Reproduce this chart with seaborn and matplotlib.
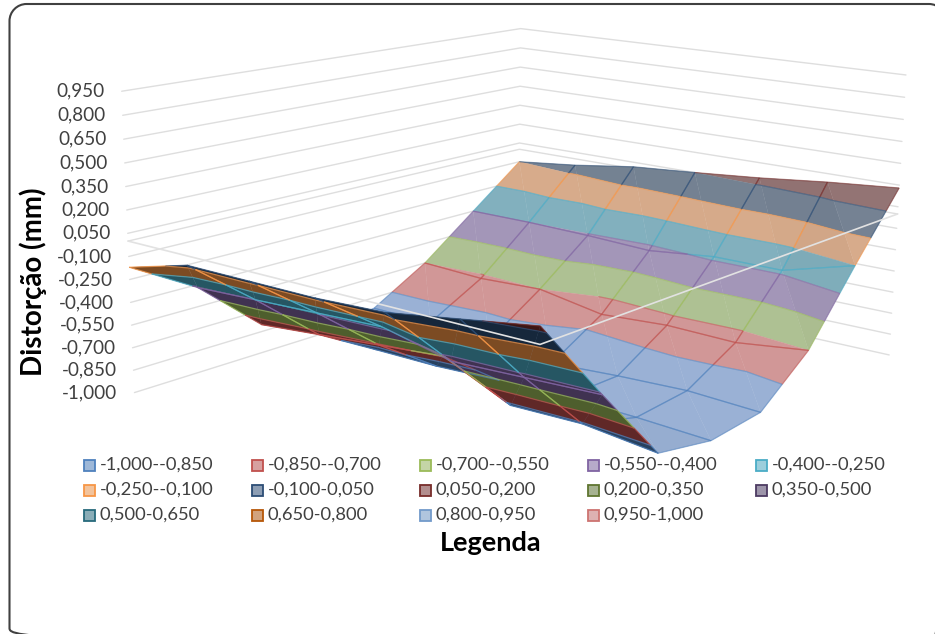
import numpy as np
import matplotlib
matplotlib.use("Agg")
import matplotlib.pyplot as plt
from matplotlib.colors import to_rgb
from matplotlib.path import Path
import seaborn as sns
from matplotlib.patches import PathPatch, Rectangle
from mpl_toolkits.mplot3d import proj3d
from mpl_toolkits.mplot3d.art3d import Poly3DCollection, Line3DCollection

W_PX, H_PX = 935, 634

z_levels = [0.95, 0.80, 0.65, 0.50, 0.35, 0.20, 0.05, -0.10, -0.25, -0.40, -0.55, -0.70, -0.85, -1.00]
z_tick_labels = ["0,950", "0,800", "0,650", "0,500", "0,350", "0,200", "0,050", "-0,100", "-0,250",
                 "-0,400", "-0,550", "-0,700", "-0,850", "-1,000"]
band_edges = [-1.0, -0.85, -0.7, -0.55, -0.4, -0.25, -0.1, 0.05, 0.2, 0.35, 0.5, 0.65, 0.8, 0.95, 1.0]
band_labels = ["-1,000--0,850", "-0,850--0,700", "-0,700--0,550", "-0,550--0,400", "-0,400--0,250",
               "-0,250--0,100", "-0,100-0,050", "0,050-0,200", "0,200-0,350", "0,350-0,500",
               "0,500-0,650", "0,650-0,800", "0,800-0,950", "0,950-1,000"]
band_colors = ["#4F81BD", "#C0504D", "#9BBB59", "#8064A2", "#4BACC6", "#F79646", "#2C4D75",
               "#772C2A", "#5F7530", "#4D3B62", "#276A7C", "#B65708", "#729ACA", "#CD7371"]
# Muted fills of the bands on the slope facing the viewer
slope_colors = ["#93A9CB", "#C79090", "#A6B88C", "#9B8FAF", "#7CA8B5", "#CDA384", "#6F7C8C",
                "#8C6E6E", "#8A9A70", "#7D7090", "#5E8C98", "#B08A60", "#9DB5D5", "#D0A0A0"]

# Distortion on the measurement grid, back edge first, front edge last
distortion = np.array([
    [-0.10, -0.05, 0.015, 0.05, 0.09, 0.14, 0.18],
    [-0.40, -0.40, -0.41, -0.43, -0.38, -0.38, -0.25],
    [-0.70, -0.72, -0.70, -0.78, -0.75, -0.76, -0.70],
    [-0.93, -0.93, -0.95, -1.00, -0.97, -0.95, -0.97],
    [-0.97, -1.00, -1.00, -0.98, -0.97, -0.98, -1.00],
    [-0.80, -0.76, -0.72, -0.68, -0.88, -0.87, -0.92],
    [-0.42, -0.40, -0.38, -0.36, -0.46, -0.44, -0.42],
    [-0.17, -0.06, -0.06, -0.06, -0.04, 0.03, 0.10],
])

sns.set_theme(style="white")
plt.rcParams["font.family"] = ["Lato", "DejaVu Sans"]
TEXT_GREY = "#404040"
GRID_GREY = "#DEDEDE"

fig = plt.figure(figsize=(W_PX / 100, H_PX / 100), dpi=100, facecolor="white")

# Pixel-addressed backdrop for the frame, legend and titles
bg = fig.add_axes([0, 0, 1, 1], zorder=0)
bg.set_xlim(0, W_PX); bg.set_ylim(H_PX, 0); bg.axis("off")

nrow, ncol = distortion.shape
xmax, ymax = ncol - 1, nrow - 1
side = 812.61
ax = fig.add_axes([110.33 / W_PX, -14.0 / H_PX, side / W_PX, side / H_PX], projection="3d", zorder=1)
ax.patch.set_alpha(0)
ax.set_axis_off()
ax.set_xlim(0, xmax); ax.set_ylim(0, ymax); ax.set_zlim(-1.0, 0.95)
ax.computed_zorder = False
ax.view_init(13.9393, -51.2536, -0.6212)
ax.set_proj_type("persp", focal_length=0.4245)
aspect = (1.6929, 1.9933, 1.0)
ax.set_box_aspect(aspect)
ax.M = ax.get_proj()
ax.apply_aspect()

x_grid = np.arange(ncol, dtype=float)
y_grid = ymax - np.arange(nrow, dtype=float)


def screen_xy(x, y, z):
    u, v, _ = proj3d.proj_transform(np.atleast_1d(x), np.atleast_1d(y), np.atleast_1d(z), ax.M)
    return u, v


def signed_area(tri):
    u, v = screen_xy(tri[:, 0], tri[:, 1], tri[:, 2])
    return 0.5 * np.sum(u * np.roll(v, -1) - np.roll(u, -1) * v)


def clip_band(poly, lo, hi):
    """Cut a polygon down to the part lying between two z levels."""
    def half(points, level, keep_above):
        out = []
        n = len(points)
        for i in range(n):
            a, b = points[i], points[(i + 1) % n]
            ina = a[2] >= level if keep_above else a[2] <= level
            inb = b[2] >= level if keep_above else b[2] <= level
            if ina:
                out.append(a)
            if ina != inb:
                t = (level - a[2]) / (b[2] - a[2])
                out.append(a + t * (b - a))
        return out
    pts = half(list(poly), lo, True)
    if len(pts) >= 3:
        pts = half(pts, hi, False)
    return np.array(pts) if len(pts) >= 3 else None


def band_of(z):
    return int(np.clip(np.searchsorted(band_edges, z) - 1, 0, len(band_colors) - 1))


def split_segment(p, q):
    """Yield (band, segment) pieces of a mesh edge, one per colour band."""
    cuts = [0.0, 1.0]
    for e in band_edges:
        if (p[2] - e) * (q[2] - e) < 0:
            cuts.append((e - p[2]) / (q[2] - p[2]))
    cuts.sort()
    for t0, t1 in zip(cuts[:-1], cuts[1:]):
        a, b = p + t0 * (q - p), p + t1 * (q - p)
        yield band_of(0.5 * (a[2] + b[2])), (a, b)


def level_crossings(tri):
    """Contour segments where the band limits cross a triangle."""
    out = []
    for k, e in enumerate(band_edges[1:-1]):
        pts = []
        for i in range(3):
            a, b = tri[i], tri[(i + 1) % 3]
            if (a[2] - e) * (b[2] - e) < 0:
                pts.append(a + (e - a[2]) / (b[2] - a[2]) * (b - a))
        if len(pts) == 2:
            out.append((k, pts))
    return out


light_dir = np.array([0.25, -0.35, 0.90])
light_dir /= np.linalg.norm(light_dir)
scale_xyz = np.array(aspect) / np.array([xmax, ymax, 1.95])


def facing(tri):
    n = np.cross((tri[1] - tri[0]) * scale_xyz, (tri[2] - tri[0]) * scale_xyz)
    n = n / np.linalg.norm(n)
    if n[2] < 0:
        n = -n
    return float(n @ light_dir)


layers = {False: dict(f=[], fc=[], s=[], sc=[]), True: dict(f=[], fc=[], s=[], sc=[])}
for r in range(nrow - 1):
    for c in range(ncol - 1):
        v = lambda i, j: np.array([x_grid[j], y_grid[i], distortion[i, j]])
        p00, p01, p11, p10 = v(r, c), v(r, c + 1), v(r + 1, c + 1), v(r + 1, c)
        for tri, mesh_edges in (((p00, p01, p11), ((p00, p01), (p01, p11))),
                                ((p00, p11, p10), ((p11, p10), (p10, p00)))):
            tri = np.array(tri)
            flat = tri.copy(); flat[:, 2] = 0
            under = signed_area(tri) * signed_area(flat) < 0
            bucket = layers[under]
            lit = float(np.clip(1.0 + 0.45 * (facing(tri) - 0.80), 0.9, 1.05))
            for k, (lo, hi, col, pale) in enumerate(zip(band_edges[:-1], band_edges[1:], band_colors, slope_colors)):
                piece = clip_band(tri, lo, hi)
                if piece is None:
                    continue
                face = np.array(to_rgb(col)) * 0.5 if under else np.clip(np.array(to_rgb(pale)) * lit, 0, 1)
                bucket["f"].append(piece); bucket["fc"].append(face)
            for a, b in mesh_edges:
                for k, seg in split_segment(a, b):
                    bucket["s"].append(seg); bucket["sc"].append(to_rgb(band_colors[k]))
            for k, seg in level_crossings(tri):
                bucket["s"].append(seg); bucket["sc"].append(to_rgb(band_colors[k]))

# Back walls: one gridline per tick level
for z in z_levels + [0.0]:
    ax.plot([0, 0, xmax], [0, ymax, ymax], [z, z, z], color=GRID_GREY, lw=1.0, zorder=1)

# Far slope first, then the near slope seen from below
zo = 2
for under in (False, True):
    bucket = layers[under]
    faces = Poly3DCollection(bucket["f"], facecolors=bucket["fc"], edgecolors=bucket["fc"], linewidths=0.25, zorder=zo)
    ax.add_collection3d(faces)
    alpha = 0.5 if not under else 0.7
    lines = Line3DCollection(bucket["s"], colors=[c + (alpha,) for c in bucket["sc"]], linewidths=0.9, zorder=zo + 1)
    ax.add_collection3d(lines)
    zo += 2

# Category axes cross at zero in front of the surface
ax.plot([0, xmax, xmax], [0, 0, ymax], [0, 0, 0], color="#E2E2E2", lw=1.2, zorder=10)

ax.set_xlim(0, xmax); ax.set_ylim(0, ymax); ax.set_zlim(-1.0, 0.95)

# Value labels sit just left of the wall lines
for z, lab in zip(z_levels, z_tick_labels):
    u, v = screen_xy(0.0, 0.0, z)
    px, py = ax.transData.transform((u[0], v[0]))
    bg.text(px - 17, H_PX - py, lab, ha="right", va="center", fontsize=13.6, color=TEXT_GREY)

bg.text(33, 282, "Distorção (mm)", rotation=90, ha="center", va="center", fontsize=20, fontweight="bold", color="black")
bg.text(491, 543, "Legenda", ha="center", va="center", fontsize=19.5, fontweight="bold", color="black")

# Legend grid: five columns, filled row by row
legend_x = [89, 257, 425, 593, 761]
legend_y = [465, 490, 515]
for i, (lab, col) in enumerate(zip(band_labels, band_colors)):
    cx, cy = legend_x[i % 5], legend_y[i // 5]
    base = np.array(to_rgb(col))
    bg.add_patch(Rectangle((cx - 5.5, cy - 5.5), 11, 11, facecolor=0.5 * base + 0.5 * np.array([0.93, 0.94, 0.95]),
                           edgecolor=col, lw=1.3))
    bg.text(cx + 11, cy, lab, ha="left", va="center", fontsize=13.2, color=TEXT_GREY)

# Rounded chart border; its right and bottom sides run past the canvas
fl, ft, fr, fb, rad = 9.5, 4.0, 946.0, 645.0, 17.0
k = 0.45 * rad
frame_path = Path(
    [(fl, fb - rad), (fl, ft + rad), (fl, ft + k), (fl + k, ft), (fl + rad, ft),
     (fr - rad, ft), (fr - k, ft), (fr, ft + k), (fr, ft + rad),
     (fr, fb - rad), (fr, fb - k), (fr - k, fb), (fr - rad, fb),
     (fl + rad, fb), (fl + k, fb), (fl, fb - k), (fl, fb - rad)],
    [Path.MOVETO, Path.LINETO, Path.CURVE4, Path.CURVE4, Path.CURVE4,
     Path.LINETO, Path.CURVE4, Path.CURVE4, Path.CURVE4,
     Path.LINETO, Path.CURVE4, Path.CURVE4, Path.CURVE4,
     Path.LINETO, Path.CURVE4, Path.CURVE4, Path.CURVE4])
bg.add_patch(PathPatch(frame_path, facecolor="none", edgecolor="#404040", lw=1.5))

fig.savefig("out.png", dpi=100)
